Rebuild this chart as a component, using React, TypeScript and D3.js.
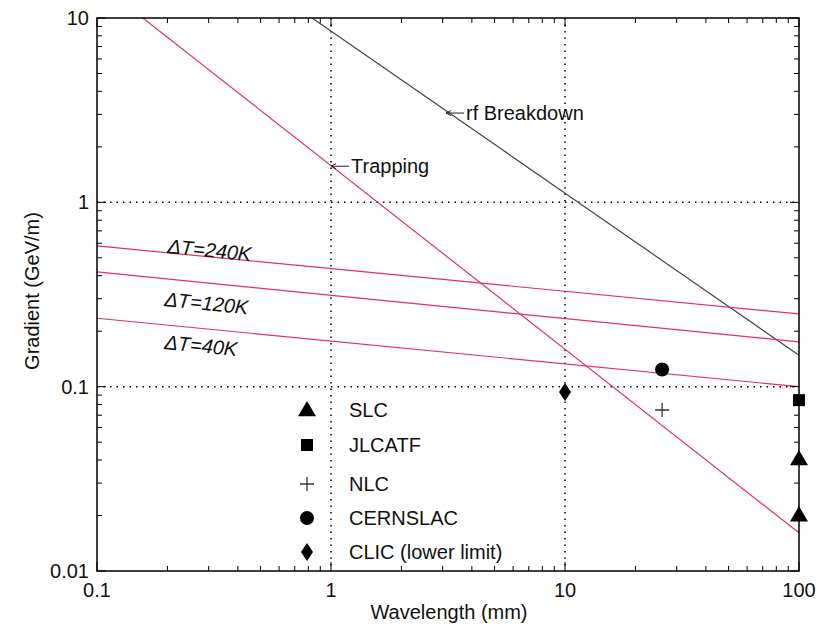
import React from "react";
import * as d3 from "d3";

const xTicks = [0.1, 1, 10, 100];
const yTicks = [0.01, 0.1, 1, 10];
const xTickLabels = ["0.1", "1", "10", "100"];
const yTickLabels = ["0.01", "0.1", "1", "10"];

const rfBreakdown: [number, number][] = [[0.83, 10], [100, 0.148]];
const trapping: [number, number][] = [[0.157, 10], [100, 0.0161]];
const dT240: [number, number][] = [[0.1, 0.58], [100, 0.248]];
const dT120: [number, number][] = [[0.1, 0.419], [100, 0.175]];
const dT40: [number, number][] = [[0.1, 0.235], [100, 0.1]];

const slc: [number, number][] = [[100, 0.0405], [100, 0.0201]];
const jlcatf: [number, number][] = [[100, 0.0845]];
const nlc: [number, number][] = [[26, 0.0747]];
const cernslac: [number, number][] = [[26, 0.124]];
const clic: [number, number][] = [[10, 0.0935]];

const legendNames = ["SLC", "JLCATF", "NLC", "CERNSLAC", "CLIC (lower limit)"];

const PINK = "#e0306a";
const FONT = "'Liberation Sans', Arial, Helvetica, sans-serif";
const FS = 20;

function Marker({ type, x, y }: { type: string; x: number; y: number }) {
  if (type === "tri") {
    const s = 9;
    return <path d={`M${x},${y - s}L${x + s},${y + s * 0.7}L${x - s},${y + s * 0.7}Z`} fill="#000" />;
  }
  if (type === "sq") return <rect x={x - 6} y={y - 6} width={12} height={12} fill="#000" />;
  if (type === "plus")
    return (
      <path d={`M${x - 7},${y}H${x + 7}M${x},${y - 7}V${y + 7}`} stroke="#333" strokeWidth={1.3} />
    );
  if (type === "circ") return <circle cx={x} cy={y} r={7} fill="#000" />;
  return <path d={`M${x},${y - 9}L${x + 6},${y}L${x},${y + 9}L${x - 6},${y}Z`} fill="#000" />;
}

export default function App() {
  const W = 823, H = 629;
  const L = 97, R = 799, T = 18, B = 571;
  const x = d3.scaleLog().domain([0.1, 100]).range([L, R]);
  const y = d3.scaleLog().domain([0.01, 10]).range([B, T]);
  const line = d3.line<[number, number]>().x(d => x(d[0])).y(d => y(d[1]));

  const minorX: number[] = [];
  const minorY: number[] = [];
  for (const dec of [0.1, 1, 10]) for (let k = 2; k <= 9; k++) minorX.push(dec * k);
  for (const dec of [0.01, 0.1, 1]) for (let k = 2; k <= 9; k++) minorY.push(dec * k);

  const legendTypes = ["tri", "sq", "plus", "circ", "dia"];
  const legendY = [410, 445, 484, 518, 552];

  const angle = (pts: [number, number][]) =>
    (Math.atan2(y(pts[1][1]) - y(pts[0][1]), x(pts[1][0]) - x(pts[0][0])) * 180) / Math.PI;

  return (
    <svg width={W} height={H} style={{ display: "block", position: "absolute", left: 0, top: 0 }} fontFamily={FONT}>
      <rect width={W} height={H} fill="#fff" />
      {/* grid */}
      {[1, 10].map(v => (
        <line key={"gx" + v} x1={x(v)} x2={x(v)} y1={T} y2={B} stroke="#000" strokeWidth={1.5} strokeDasharray="1.5,5" />
      ))}
      {[1, 0.1].map(v => (
        <line key={"gy" + v} x1={L} x2={R} y1={y(v)} y2={y(v)} stroke="#000" strokeWidth={1.5} strokeDasharray="1.5,5" />
      ))}
      {/* lines */}
      <defs>
        <clipPath id="clip"><rect x={L} y={T} width={R - L} height={B - T} /></clipPath>
      </defs>
      <g clipPath="url(#clip)" fill="none">
        <path d={line(rfBreakdown)!} stroke="#444" strokeWidth={1.2} />
        <path d={line(trapping)!} stroke={PINK} strokeWidth={1.2} />
        <path d={line(dT240)!} stroke={PINK} strokeWidth={1.2} />
        <path d={line(dT120)!} stroke={PINK} strokeWidth={1.2} />
        <path d={line(dT40)!} stroke={PINK} strokeWidth={1.2} />
      </g>
      {/* axes frame */}
      <rect x={L} y={T} width={R - L} height={B - T} fill="none" stroke="#000" strokeWidth={1.5} />
      {/* ticks */}
      {xTicks.map(v => (
        <g key={"tx" + v}>
          <line x1={x(v)} x2={x(v)} y1={B} y2={B - 9} stroke="#000" />
          <line x1={x(v)} x2={x(v)} y1={T} y2={T + 9} stroke="#000" />
        </g>
      ))}
      {minorX.map(v => (
        <g key={"mx" + v}>
          <line x1={x(v)} x2={x(v)} y1={B} y2={B - 5} stroke="#000" />
          <line x1={x(v)} x2={x(v)} y1={T} y2={T + 5} stroke="#000" />
        </g>
      ))}
      {yTicks.map(v => (
        <g key={"ty" + v}>
          <line x1={L} x2={L + 9} y1={y(v)} y2={y(v)} stroke="#000" />
          <line x1={R} x2={R - 9} y1={y(v)} y2={y(v)} stroke="#000" />
        </g>
      ))}
      {minorY.map(v => (
        <g key={"my" + v}>
          <line x1={L} x2={L + 5} y1={y(v)} y2={y(v)} stroke="#000" />
          <line x1={R} x2={R - 5} y1={y(v)} y2={y(v)} stroke="#000" />
        </g>
      ))}
      {/* tick labels */}
      {xTicks.map((v, i) => (
        <text key={"lx" + v} x={x(v)} y={B + 26} textAnchor="middle" fontSize={FS} fill="#111">{xTickLabels[i]}</text>
      ))}
      {yTicks.map((v, i) => (
        <text key={"ly" + v} x={L - 8} y={y(v) + 7} textAnchor="end" fontSize={FS} fill="#111">{yTickLabels[i]}</text>
      ))}
      {/* axis titles */}
      <text x={449} y={619} textAnchor="middle" fontSize={FS} fill="#111">Wavelength (mm)</text>
      <text transform={`translate(39,291) rotate(-90)`} textAnchor="middle" fontSize={FS} fill="#111">Gradient (GeV/m)</text>
      {/* annotations */}
      <g stroke="#222" strokeWidth={1} fill="none">
        <path d={`M${x(3.1)},${y(3.05)}H${x(3.1) + 18}`} />
        <path d={`M${x(3.1) + 5},${y(3.05) - 2.5}L${x(3.1)},${y(3.05)}L${x(3.1) + 5},${y(3.05) + 2.5}`} />
        <path d={`M${x(1)},${y(1.57)}H${x(1) + 18}`} />
        <path d={`M${x(1) + 5},${y(1.57) - 2.5}L${x(1)},${y(1.57)}L${x(1) + 5},${y(1.57) + 2.5}`} />
      </g>
      <text x={x(3.1) + 20} y={y(3.05) + 7} fontSize={FS} fill="#111">rf Breakdown</text>
      <text x={x(1) + 20} y={y(1.57) + 7} fontSize={FS} fill="#111">Trapping</text>
      <text transform={`translate(167,253) rotate(${angle(dT240)})`} fontSize={FS} fontStyle="italic" fill="#111">ΔT=240K</text>
      <text transform={`translate(164,306) rotate(${angle(dT120)})`} fontSize={FS} fontStyle="italic" fill="#111">ΔT=120K</text>
      <text transform={`translate(164,349) rotate(${angle(dT40)})`} fontSize={FS} fontStyle="italic" fill="#111">ΔT=40K</text>
      {/* data points */}
      {slc.map((d, i) => <Marker key={"s" + i} type="tri" x={x(d[0])} y={y(d[1])} />)}
      {jlcatf.map((d, i) => <Marker key={"j" + i} type="sq" x={x(d[0])} y={y(d[1])} />)}
      {nlc.map((d, i) => <Marker key={"n" + i} type="plus" x={x(d[0])} y={y(d[1])} />)}
      {cernslac.map((d, i) => <Marker key={"c" + i} type="circ" x={x(d[0])} y={y(d[1])} />)}
      {clic.map((d, i) => <Marker key={"d" + i} type="dia" x={x(d[0])} y={y(d[1])} />)}
      {/* legend */}
      {legendNames.map((n, i) => (
        <g key={n}>
          <Marker type={legendTypes[i]} x={307} y={legendY[i]} />
          <text x={349} y={legendY[i] + 7} fontSize={FS} fill="#111">{n}</text>
        </g>
      ))}
    </svg>
  );
}
